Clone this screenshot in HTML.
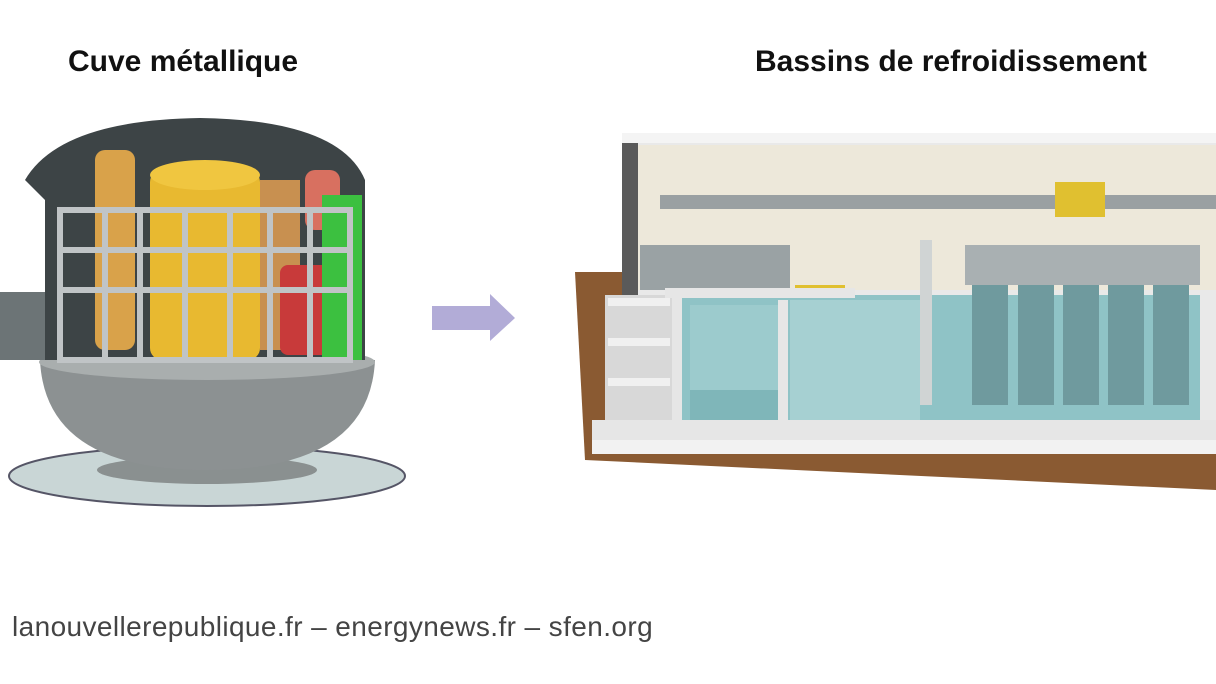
<!DOCTYPE html>
<html><head><meta charset="utf-8"><style>
html,body{margin:0;padding:0;background:#fff;width:1216px;height:684px;overflow:hidden;position:relative;font-family:"Liberation Sans",sans-serif}
.t{position:absolute;font-weight:bold;font-size:30px;color:#111;top:45px;white-space:nowrap}
.f{position:absolute;left:12px;top:611px;font-size:28px;letter-spacing:0.4px;color:#444;white-space:nowrap}
svg{position:absolute;left:0;top:0}
</style></head><body>
<svg width="1216" height="684" viewBox="0 0 1216 684">
<ellipse cx="207" cy="476" rx="198" ry="30" fill="#c9d6d6" stroke="#556" stroke-width="2"/>
<ellipse cx="207" cy="470" rx="110" ry="14" fill="#8a9090"/>
<path d="M40 360 Q45 470 207 470 Q370 470 375 360 Z" fill="#8c9192"/>
<ellipse cx="207" cy="362" rx="168" ry="18" fill="#a9aeae"/>
<rect x="0" y="292" width="60" height="68" fill="#6c7476"/>
<ellipse cx="60" cy="326" rx="12" ry="34" fill="#8a9294"/>
<path d="M25 180 Q60 120 200 118 Q340 120 365 180 L365 360 L45 360 L45 200 Z" fill="#3d4446"/>
<rect x="95" y="150" width="40" height="200" rx="10" fill="#d9a24a"/>
<rect x="150" y="170" width="110" height="190" rx="12" fill="#e8b930"/>
<ellipse cx="205" cy="175" rx="55" ry="15" fill="#f0c640"/>
<rect x="260" y="180" width="40" height="170" fill="#c89050"/>
<rect x="305" y="170" width="35" height="60" rx="10" fill="#d87060"/>
<rect x="280" y="265" width="55" height="90" rx="8" fill="#c83a3a"/>
<rect x="322" y="195" width="40" height="165" fill="#3cc040"/>
<g stroke="#c0c4c6" stroke-width="6" fill="none">
<rect x="60" y="210" width="290" height="150"/>
<line x1="60" y1="290" x2="350" y2="290"/>
<line x1="60" y1="250" x2="350" y2="250"/>
<line x1="105" y1="210" x2="105" y2="360"/>
<line x1="140" y1="210" x2="140" y2="360"/>
<line x1="185" y1="210" x2="185" y2="360"/>
<line x1="230" y1="210" x2="230" y2="360"/>
<line x1="270" y1="210" x2="270" y2="360"/>
<line x1="310" y1="210" x2="310" y2="360"/>
</g>
<path d="M432 306 L490 306 L490 294 L515 318 L490 341 L490 330 L432 330 Z" fill="#b2acd7"/>
<path d="M575 272 L1216 272 L1216 490 L585 460 Z" fill="#8a5a32"/>
<rect x="622" y="133" width="594" height="300" fill="#e9e9e9"/>
<rect x="638" y="145" width="578" height="145" fill="#ede8da"/>
<rect x="660" y="195" width="556" height="14" fill="#9aa0a2"/>
<rect x="622" y="133" width="594" height="10" fill="#f4f4f4"/>
<rect x="622" y="143" width="16" height="160" fill="#5a5a5a"/>
<rect x="605" y="295" width="70" height="125" fill="#d8d8d8"/>
<g fill="#f0f0f0"><rect x="608" y="298" width="62" height="8"/><rect x="608" y="338" width="62" height="8"/><rect x="608" y="378" width="62" height="8"/></g>
<rect x="680" y="295" width="520" height="145" fill="#8fc3c6"/>
<rect x="790" y="300" width="130" height="125" fill="#a6d0d2"/>
<rect x="690" y="305" width="88" height="120" fill="#9ccbcd"/>
<rect x="690" y="390" width="88" height="35" fill="#7fb6b9"/>
<rect x="965" y="245" width="235" height="40" fill="#a9b0b2"/>
<g fill="#6f9a9e"><rect x="972" y="285" width="36" height="120"/><rect x="1018" y="285" width="36" height="120"/><rect x="1063" y="285" width="36" height="120"/><rect x="1108" y="285" width="36" height="120"/><rect x="1153" y="285" width="36" height="120"/></g>
<rect x="920" y="240" width="12" height="165" fill="#d0d4d4"/>
<rect x="640" y="245" width="150" height="45" fill="#9aa2a4"/>
<rect x="1055" y="182" width="50" height="35" fill="#e0c030"/>
<rect x="795" y="285" width="50" height="12" fill="#e0c030"/>
<g fill="#e6e6e6">
<rect x="592" y="420" width="624" height="22"/>
<rect x="672" y="290" width="10" height="140"/>
<rect x="778" y="300" width="10" height="130"/>
<rect x="665" y="288" width="190" height="10"/>
</g>
<rect x="592" y="440" width="624" height="14" fill="#f2f2f2"/>
</svg>
<div class="t" style="left:68px">Cuve métallique</div>
<div class="t" style="left:755px">Bassins de refroidissement</div>
<div class="f">lanouvellerepublique.fr – energynews.fr – sfen.org</div>
</body></html>
